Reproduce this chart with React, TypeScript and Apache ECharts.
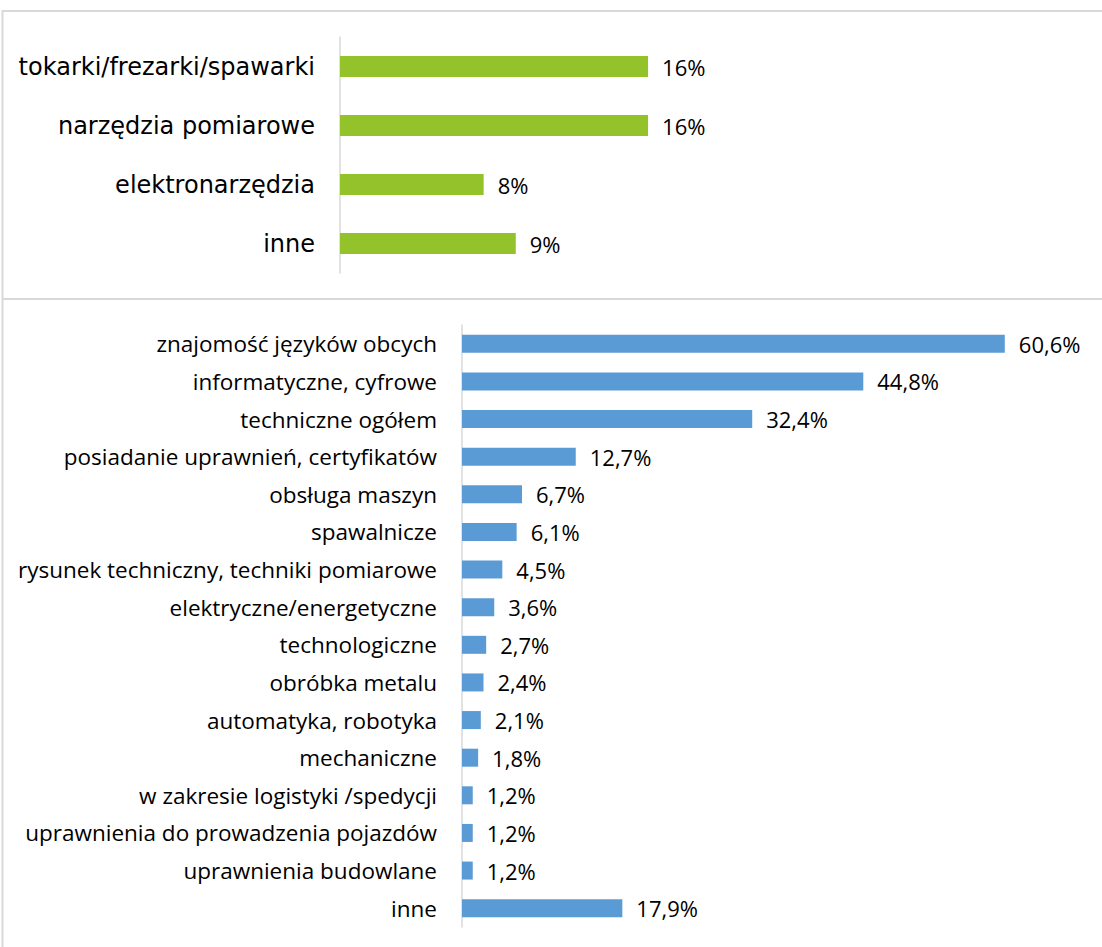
import React, { useEffect, useRef } from "react";
import * as echarts from "echarts";

const topCategories = ["tokarki/frezarki/spawarki", "narzędzia pomiarowe", "elektronarzędzia", "inne"];
const topValues = [16.3, 16.3, 7.6, 9.3];

const bottomCategories = [
  "znajomość języków obcych",
  "informatyczne, cyfrowe",
  "techniczne ogółem",
  "posiadanie uprawnień, certyfikatów",
  "obsługa maszyn",
  "spawalnicze",
  "rysunek techniczny, techniki pomiarowe",
  "elektryczne/energetyczne",
  "technologiczne",
  "obróbka metalu",
  "automatyka, robotyka",
  "mechaniczne",
  "w zakresie logistyki /spedycji",
  "uprawnienia do prowadzenia pojazdów",
  "uprawnienia budowlane",
  "inne",
];
const bottomValues = [60.6, 44.8, 32.4, 12.7, 6.7, 6.1, 4.5, 3.6, 2.7, 2.4, 2.1, 1.8, 1.2, 1.2, 1.2, 17.9];

const GREEN = "#93c22a";
const BLUE = "#5b9bd5";
const BORDER = "#d9d9d9";

export default function App() {
  const ref = useRef<HTMLDivElement>(null);
  useEffect(() => {
    if (!ref.current) return;
    const chart = echarts.init(ref.current, undefined, { renderer: "svg" });
    const axisLine = { show: true, lineStyle: { color: BORDER, width: 1.5 } };
    chart.setOption({
      animation: false,
      backgroundColor: "#ffffff",
      grid: [
        { left: 340, top: 37, width: 378, height: 236, containLabel: false },
        { left: 462, top: 325, width: 627, height: 602, containLabel: false },
      ],
      xAxis: [
        { type: "value", gridIndex: 0, min: 0, max: 20, show: false },
        { type: "value", gridIndex: 1, min: 0, max: 70, show: false },
      ],
      yAxis: [
        {
          type: "category",
          gridIndex: 0,
          data: topCategories,
          inverse: true,
          axisLine,
          axisTick: { show: false },
          axisLabel: { margin: 25, color: "#000", fontFamily: "DejaVu Sans", fontSize: 24 },
        },
        {
          type: "category",
          gridIndex: 1,
          data: bottomCategories,
          inverse: true,
          axisLine,
          axisTick: { show: false },
          axisLabel: { margin: 25, color: "#000", fontFamily: "Open Sans", fontSize: 22.5 },
        },
      ],
      series: [
        {
          type: "bar",
          xAxisIndex: 0,
          yAxisIndex: 0,
          data: topValues,
          barWidth: 21,
          itemStyle: { color: GREEN },
          label: {
            show: true,
            position: "right",
            distance: 14,
            color: "#000",
            fontFamily: "Open Sans",
            fontSize: 22,
            formatter: (p: any) => Math.round(p.value) + "%",
          },
        },
        {
          type: "bar",
          xAxisIndex: 1,
          yAxisIndex: 1,
          data: bottomValues,
          barWidth: 18,
          itemStyle: { color: BLUE },
          label: {
            show: true,
            position: "right",
            distance: 14,
            color: "#000",
            fontFamily: "Open Sans",
            fontSize: 22,
            formatter: (p: any) => p.value.toFixed(1).replace(".", ",") + "%",
          },
        },
      ],
      graphic: [
        { type: "line", shape: { x1: 2, y1: 11, x2: 1102, y2: 11 }, style: { stroke: BORDER, lineWidth: 2 } },
        { type: "line", shape: { x1: 2, y1: 299, x2: 1102, y2: 299 }, style: { stroke: BORDER, lineWidth: 2 } },
        { type: "line", shape: { x1: 2.5, y1: 10, x2: 2.5, y2: 947 }, style: { stroke: BORDER, lineWidth: 2 } },
      ],
    });
    return () => chart.dispose();
  }, []);
  return (
    <div
      ref={ref}
      style={{ position: "absolute", left: 0, top: 0, width: 1102, height: 947 }}
    />
  );
}
